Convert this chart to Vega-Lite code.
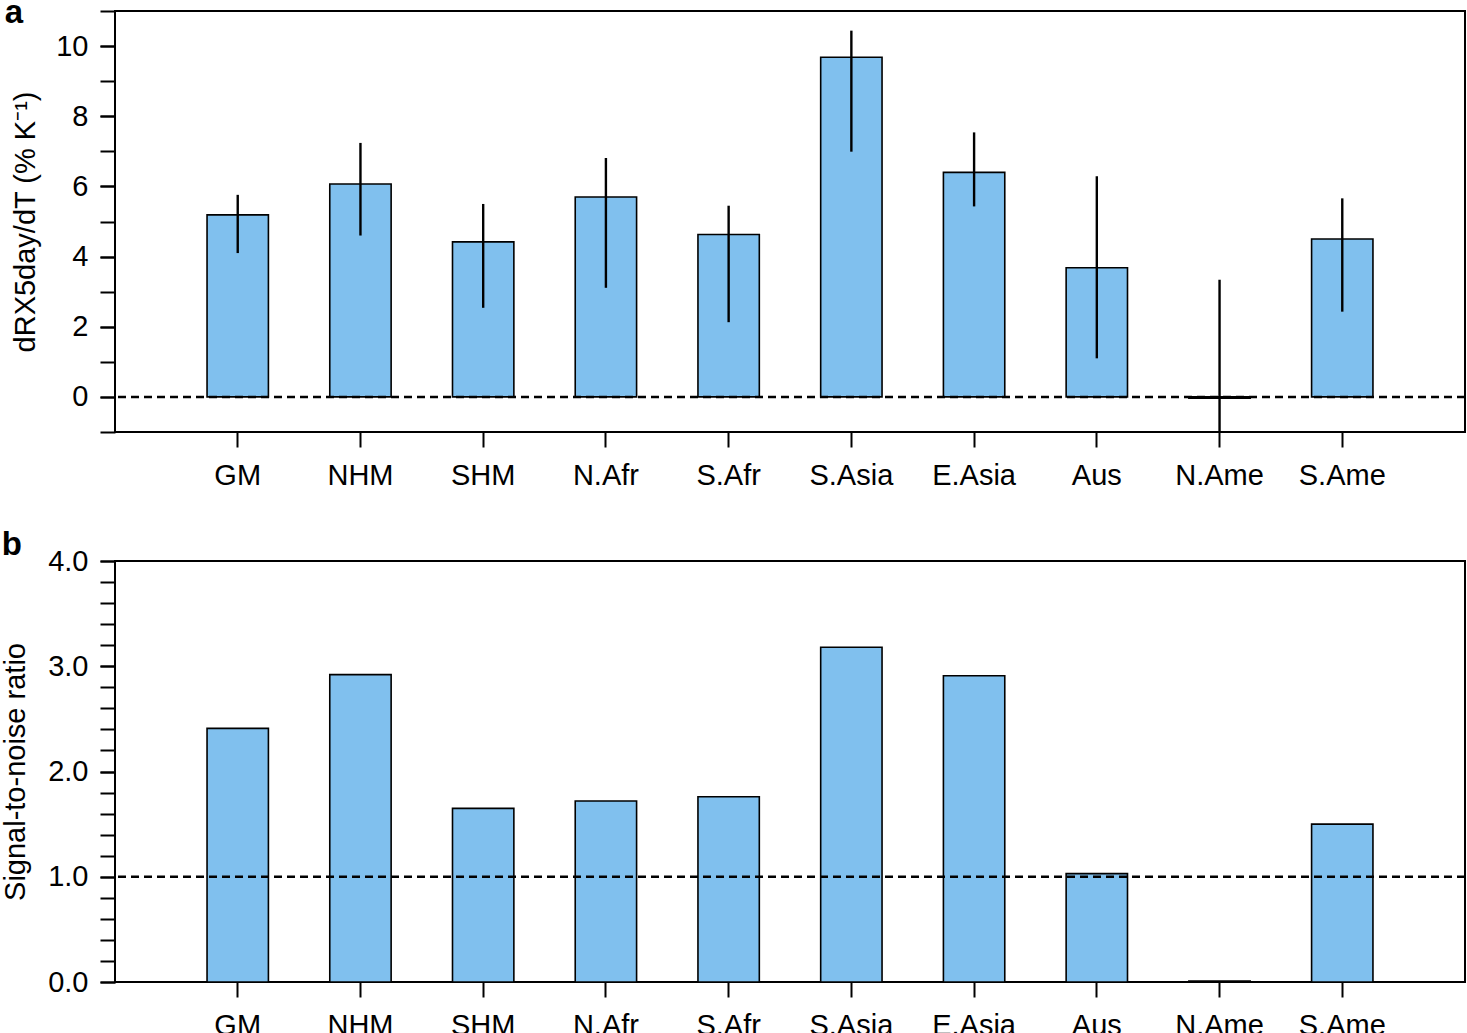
{
  "$schema": "https://vega.github.io/schema/vega-lite/v6.json",
  "padding": {"left": 0, "top": -4, "right": 2, "bottom": 0},
  "background": "white",
  "spacing": 37,
  "config": {
    "font": "Liberation Sans",
    "view": {"stroke": "black", "strokeWidth": 2},
    "axis": {
      "labelColor": "black",
      "labelFontSize": 29,
      "tickColor": "black",
      "tickSize": 15,
      "tickWidth": 2,
      "grid": false,
      "domain": false,
      "titleColor": "black",
      "titleFontSize": 29,
      "titleFontWeight": "normal"
    },
    "title": {"fontSize": 33, "fontWeight": "bold", "color": "black", "anchor": "start", "frame": "bounds"}
  },
  "datasets": {
    "panelA": [
      {"region": "GM", "value": 5.19, "low": 4.10, "high": 5.76},
      {"region": "NHM", "value": 6.07, "low": 4.60, "high": 7.24},
      {"region": "SHM", "value": 4.42, "low": 2.54, "high": 5.50},
      {"region": "N.Afr", "value": 5.70, "low": 3.11, "high": 6.81},
      {"region": "S.Afr", "value": 4.63, "low": 2.13, "high": 5.45},
      {"region": "S.Asia", "value": 9.68, "low": 6.99, "high": 10.44},
      {"region": "E.Asia", "value": 6.40, "low": 5.43, "high": 7.54},
      {"region": "Aus", "value": 3.68, "low": 1.10, "high": 6.29},
      {"region": "N.Ame", "value": -0.04, "low": -1.0, "high": 3.34},
      {"region": "S.Ame", "value": 4.50, "low": 2.43, "high": 5.66}
    ],
    "panelB": [
      {"region": "GM", "value": 2.41},
      {"region": "NHM", "value": 2.92},
      {"region": "SHM", "value": 1.65},
      {"region": "N.Afr", "value": 1.72},
      {"region": "S.Afr", "value": 1.76},
      {"region": "S.Asia", "value": 3.18},
      {"region": "E.Asia", "value": 2.91},
      {"region": "Aus", "value": 1.03},
      {"region": "N.Ame", "value": 0.01},
      {"region": "S.Ame", "value": 1.50}
    ],
    "refA": [{"ref": 0}],
    "refB": [{"ref": 1}]
  },
  "vconcat": [
    {
      "width": 1350,
      "height": 421,
      "title": {"text": "a", "offset": -20, "dx": -7},
      "resolve": {"axis": {"y": "independent"}},
      "layer": [
        {
          "data": {"name": "panelA"},
          "mark": {"type": "bar", "fill": "#80c0ee", "stroke": "black", "strokeWidth": 1.6},
          "encoding": {
            "x": {"field": "region", "type": "nominal", "sort": null,
                  "scale": {"paddingInner": 0.5, "paddingOuter": 0.75},
                  "axis": {"title": null, "labelAngle": 0, "labelPadding": 14}},
            "y": {"field": "value", "type": "quantitative",
                  "scale": {"domain": [-1, 11], "nice": false, "zero": false},
                  "axis": {"orient": "left", "title": "dRX5day/dT (% K\u207b\u00b9)", "titlePadding": 15, "labelPadding": 12,
                           "tickSize": 15, "tickWidth": 2,
                           "labelOverlap": false, "values": [0, 2, 4, 6, 8, 10], "format": "d"}},
            "y2": {"datum": 0}
          }
        },
        {
          "data": {"name": "panelA"},
          "mark": {"type": "rule", "color": "black", "strokeWidth": 2.4},
          "encoding": {
            "x": {"field": "region", "type": "nominal", "sort": null},
            "y": {"field": "low", "type": "quantitative", "axis": null},
            "y2": {"field": "high"}
          }
        },
        {
          "data": {"name": "refA"},
          "mark": {"type": "rule", "color": "black", "strokeWidth": 2.5, "strokeDash": [8, 5]},
          "encoding": {"y": {"field": "ref", "type": "quantitative",
                             "axis": {"orient": "left", "title": null, "labels": false,
                                      "tickSize": 15, "tickWidth": 2, "tickColor": "black",
                                      "values": [-1, 0, 1, 2, 3, 4, 5, 6, 7, 8, 9, 10, 11]}}}
        }
      ]
    },
    {
      "width": 1350,
      "height": 421,
      "title": {"text": "b", "offset": -15},
      "resolve": {"axis": {"y": "independent"}},
      "layer": [
        {
          "data": {"name": "panelB"},
          "mark": {"type": "bar", "fill": "#80c0ee", "stroke": "black", "strokeWidth": 1.6},
          "encoding": {
            "x": {"field": "region", "type": "nominal", "sort": null,
                  "scale": {"paddingInner": 0.5, "paddingOuter": 0.75},
                  "axis": {"title": null, "labelAngle": 0, "labelPadding": 14}},
            "y": {"field": "value", "type": "quantitative",
                  "scale": {"domain": [0, 4], "nice": false, "zero": false},
                  "axis": {"orient": "left", "title": "Signal-to-noise ratio", "titlePadding": 17, "labelPadding": 12,
                           "tickSize": 15, "tickWidth": 2,
                           "labelOverlap": false, "values": [0, 1, 2, 3, 4], "format": ".1f"}},
            "y2": {"datum": 0}
          }
        },
        {
          "data": {"name": "refB"},
          "mark": {"type": "rule", "color": "black", "strokeWidth": 2.5, "strokeDash": [8, 5]},
          "encoding": {"y": {"field": "ref", "type": "quantitative",
                             "axis": {"orient": "left", "title": null, "labels": false,
                                      "tickSize": 15, "tickWidth": 2, "tickColor": "black",
                                      "values": [0, 0.2, 0.4, 0.6, 0.8, 1, 1.2, 1.4, 1.6, 1.8, 2, 2.2, 2.4, 2.6, 2.8, 3, 3.2, 3.4, 3.6, 3.8, 4]}}}
        }
      ]
    }
  ]
}
